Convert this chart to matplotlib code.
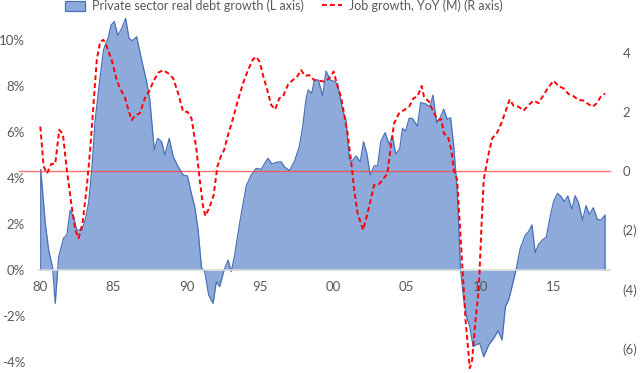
#!/usr/bin/env python3
"""
Private sector real debt growth (area, left axis) vs job growth YoY (dashed, right axis).
"""
import numpy as np
import matplotlib
matplotlib.use("Agg")
import matplotlib.pyplot as plt
from matplotlib.ticker import FuncFormatter

plt.rcParams["font.family"] = ["Lato", "DejaVu Sans"]

# --- data ---------------------------------------------------------------------------------------
DEBT_YEARS = [
    1980.05, 1980.36, 1980.59, 1980.86, 1981.04, 1981.27, 1981.61, 1981.83, 1982.06, 1982.29,
    1982.51, 1982.85, 1983.08, 1983.31, 1983.53, 1983.76, 1984.10, 1984.33, 1984.67, 1984.84,
    1985.07, 1985.30, 1985.57, 1985.84, 1986.07, 1986.30, 1986.59, 1986.93, 1987.27, 1987.49,
    1987.61, 1987.79, 1988.02, 1988.29, 1988.51, 1988.81, 1989.08, 1989.42, 1989.76, 1990.05,
    1990.33, 1990.55, 1990.78, 1991.01, 1991.23, 1991.50, 1991.80, 1992.02, 1992.25, 1992.55,
    1992.82, 1993.04, 1993.27, 1993.61, 1994.06, 1994.40, 1994.74, 1995.08, 1995.54, 1995.81,
    1996.10, 1996.44, 1996.66, 1997.00, 1997.34, 1997.68, 1997.91, 1998.14, 1998.29, 1998.53,
    1998.70, 1998.97, 1999.27, 1999.50, 1999.79, 2000.11, 2000.29, 2000.63, 2000.86, 2001.08,
    2001.24, 2001.54, 2001.83, 2002.06, 2002.28, 2002.51, 2002.78, 2003.01, 2003.23, 2003.53,
    2003.80, 2004.03, 2004.25, 2004.52, 2004.71, 2004.93, 2005.16, 2005.39, 2005.73, 2005.95,
    2006.29, 2006.58, 2006.79, 2007.04, 2007.26, 2007.53, 2007.76, 2007.99, 2008.21, 2008.44,
    2008.67, 2008.89, 2009.08, 2009.30, 2009.53, 2009.69, 2009.98, 2010.25, 2010.59, 2010.93,
    2011.23, 2011.50, 2011.73, 2011.95, 2012.18, 2012.45, 2012.74, 2013.08, 2013.31, 2013.54,
    2013.76, 2013.99, 2014.29, 2014.51, 2014.78, 2015.01, 2015.28, 2015.53, 2015.75, 2015.98,
    2016.26, 2016.48, 2016.71, 2016.98, 2017.23, 2017.45, 2017.72, 2018.00, 2018.25, 2018.52,
]
DEBT_GROWTH = [
    4.38, 2.04, 0.87, 0.10, -1.45, 0.57, 1.39, 1.52, 2.60, 2.32,
    1.74, 1.74, 2.17, 2.90, 4.35, 6.52, 8.40, 9.57, 10.14, 10.65,
    10.80, 10.20, 10.50, 10.94, 10.07, 9.97, 10.14, 9.13, 8.19, 7.39,
    6.52, 5.22, 5.72, 5.58, 5.00, 5.72, 4.93, 4.49, 4.13, 4.09,
    3.30, 2.75, 1.74, 0.10, -0.07, -1.09, -1.45, -0.51, -0.72, 0.00,
    0.43, -0.07, 0.65, 2.03, 3.66, 4.13, 4.42, 4.38, 4.86, 4.61,
    4.68, 4.71, 4.49, 4.32, 4.71, 5.36, 6.23, 7.46, 7.83, 7.68,
    8.26, 8.26, 7.57, 8.65, 8.26, 8.19, 8.08, 6.96, 6.52, 4.86,
    4.71, 4.96, 4.71, 5.58, 5.07, 4.13, 4.53, 4.53, 5.58, 5.97,
    5.45, 5.84, 5.04, 5.26, 6.16, 6.04, 6.59, 6.59, 6.26, 7.28,
    7.22, 7.10, 7.60, 6.40, 6.59, 6.99, 6.55, 6.62, 5.36, 3.48,
    0.00, -1.30, -2.03, -2.46, -3.33, -3.26, -3.19, -3.77, -3.26, -2.97,
    -2.64, -3.04, -1.59, -1.30, -0.72, 0.00, 0.94, 1.52, 1.67, 1.96,
    0.75, 1.12, 1.33, 1.42, 2.32, 2.97, 3.33, 3.19, 2.97, 3.22,
    2.64, 3.23, 2.93, 2.17, 2.80, 2.42, 2.71, 2.20, 2.17, 2.39,
]

JOB_YEARS = [
    1980.02, 1980.25, 1980.48, 1980.77, 1981.04, 1981.31, 1981.56, 1981.83, 1982.13, 1982.40,
    1982.63, 1982.90, 1983.19, 1983.42, 1983.65, 1983.87, 1984.10, 1984.33, 1984.55, 1984.89,
    1985.23, 1985.46, 1985.79, 1986.03, 1986.25, 1986.52, 1986.81, 1987.15, 1987.49, 1987.72,
    1988.06, 1988.40, 1988.74, 1989.08, 1989.42, 1989.76, 1990.05, 1990.33, 1990.67, 1990.89,
    1991.12, 1991.28, 1991.57, 1991.84, 1992.09, 1992.32, 1992.55, 1992.82, 1993.16, 1993.50,
    1993.84, 1994.18, 1994.52, 1994.74, 1994.97, 1995.20, 1995.49, 1995.76, 1996.03, 1996.32,
    1996.56, 1996.90, 1997.23, 1997.53, 1997.80, 1998.07, 1998.36, 1998.70, 1999.04, 1999.38,
    1999.72, 2000.02, 2000.29, 2000.52, 2000.74, 2000.97, 2001.20, 2001.42, 2001.65, 2002.03,
    2002.33, 2002.78, 2003.12, 2003.35, 2003.69, 2003.91, 2004.14, 2004.48, 2004.82, 2005.16,
    2005.46, 2005.73, 2006.02, 2006.18, 2006.52, 2006.86, 2007.13, 2007.36, 2007.53, 2007.81,
    2008.04, 2008.21, 2008.44, 2008.78, 2009.01, 2009.30, 2009.46, 2009.69, 2009.91, 2010.14,
    2010.25, 2010.37, 2010.59, 2010.82, 2011.16, 2011.45, 2011.73, 2012.02, 2012.29, 2012.63,
    2012.97, 2013.31, 2013.65, 2013.99, 2014.33, 2014.67, 2015.01, 2015.35, 2015.69, 2016.03,
    2016.37, 2016.71, 2017.04, 2017.38, 2017.68, 2017.95, 2018.23, 2018.52,
]
JOB_GROWTH = [
    1.50, 0.15, -0.08, 0.24, 0.24, 1.39, 1.25, 0.03, -1.09, -1.99,
    -2.27, -1.77, -0.53, 0.71, 2.29, 3.75, 4.37, 4.43, 4.20, 3.75,
    3.07, 2.79, 2.49, 2.06, 1.72, 1.89, 1.95, 2.46, 2.74, 3.02,
    3.32, 3.41, 3.30, 3.13, 2.62, 2.00, 2.00, 1.78, 0.71, -0.30,
    -1.21, -1.52, -1.21, -0.81, 0.15, 0.48, 0.71, 1.22, 1.78, 2.40,
    2.96, 3.41, 3.77, 3.86, 3.69, 3.24, 2.74, 2.23, 2.08, 2.46,
    2.51, 2.91, 3.07, 3.19, 3.41, 3.21, 3.24, 3.07, 3.05, 3.02,
    3.13, 3.36, 2.85, 2.51, 1.89, 1.27, 0.37, -0.64, -1.43, -1.99,
    -1.43, -0.47, -0.44, -0.30, -0.08, 0.82, 1.61, 1.95, 2.06, 2.17,
    2.46, 2.51, 2.87, 2.51, 2.34, 1.95, 1.72, 1.75, 1.27, 1.16,
    0.71, 0.03, -0.30, -3.10, -5.03, -6.66, -6.39, -5.03, -4.02, -1.40,
    -0.30, 0.03, 0.60, 1.10, 1.29, 1.61, 2.00, 2.42, 2.20, 2.17,
    2.04, 2.23, 2.38, 2.29, 2.57, 2.83, 3.05, 2.87, 2.79, 2.60,
    2.53, 2.40, 2.38, 2.26, 2.17, 2.29, 2.51, 2.62,
]

LEFT_TICKS = [-4, -2, 0, 2, 4, 6, 8, 10]
RIGHT_TICKS = [-6, -4, -2, 0, 2, 4]
X_TICKS = [1980, 1985, 1990, 1995, 2000, 2005, 2010, 2015]

DEBT_LABEL = "Private sector real debt growth (L axis)"
JOB_LABEL = "Job growth, YoY (M) (R axis)"

# --- style --------------------------------------------------------------------------------------
FILL = "#8eaadb"
EDGE = "#4a70b8"
TEXT = "#595959"
DASH = (0, (2.5, 1.6))


def pct(v, _):
    return f"{v:.0f}%"


def paren(v, _):
    return f"({abs(v):.0f})" if v < 0 else f"{v:.0f}"


def main():
    fig = plt.figure(figsize=(6.4, 3.73), dpi=100)
    ax = fig.add_axes([39 / 640, 1 - 372 / 373, (610 - 39) / 640, 357 / 373])
    ax2 = ax.twinx()

    years = np.array(DEBT_YEARS)
    debt = np.array(DEBT_GROWTH)
    ax.fill_between(years, debt, 0, color=FILL, linewidth=0, zorder=1)
    ax.plot(np.r_[years[0], years, years[-1]], np.r_[0, debt, 0],
            color=EDGE, linewidth=0.9, zorder=1.2)
    ax.set_axisbelow(False)   # keep tick labels (e.g. "10") above the area

    ax.set_xlim(1980 - 1 / 14.72, 1980 + (610 - 38) / 14.72)
    ax.set_ylim((270 - 372) / 23, (270 - 15) / 23)
    ax.set_yticks(LEFT_TICKS)
    ax.yaxis.set_major_formatter(FuncFormatter(pct))
    ax.set_xticks(X_TICKS)
    ax.set_xticklabels([f"{y % 100:02d}" for y in X_TICKS])

    for s in ("top", "left", "right"):
        ax.spines[s].set_visible(False)
    ax.spines["bottom"].set_position(("data", 0))
    ax.spines["bottom"].set_color("#d9d9d9")
    ax.spines["bottom"].set_linewidth(1.2)
    ax.spines["bottom"].set_zorder(4)
    ax.tick_params(axis="both", length=0, labelsize=9.5, labelcolor=TEXT)
    ax.tick_params(axis="x", pad=8)
    ax.tick_params(axis="y", pad=10)

    # job growth on the right axis
    ax2.plot(JOB_YEARS, JOB_GROWTH, color="#ff0000", linewidth=1.4,
             linestyle=DASH, zorder=5, label=JOB_LABEL)
    ax2.axhline(0, xmin=-20 / 571, xmax=1, color="#ff4040", alpha=0.75,
                linewidth=1.0, clip_on=False, zorder=4)
    ax2.set_ylim((171 - 372) / 29.6, (171 - 15) / 29.6)
    ax2.set_yticks(RIGHT_TICKS)
    ax2.yaxis.set_major_formatter(FuncFormatter(paren))
    for s in ax2.spines.values():
        s.set_visible(False)
    ax2.tick_params(axis="y", length=0, labelsize=9.5, labelcolor=TEXT, pad=9)
    ax.set_zorder(1)
    ax2.set_zorder(2)
    ax2.patch.set_visible(False)

    # legend across the top, starting just right of the "10%" label column
    handles = [
        plt.Rectangle((0, 0), 1, 1, facecolor=FILL, edgecolor=EDGE, linewidth=0.9),
        plt.Line2D([0], [0], color="#ff0000", linewidth=1.4, linestyle=DASH),
    ]
    fig.legend(handles, [DEBT_LABEL, JOB_LABEL], loc="center left",
               bbox_to_anchor=(65 / 640, 1 - 6 / 373), ncol=2, frameon=False,
               fontsize=9, labelcolor=TEXT, handlelength=1.6, handleheight=0.95,
               columnspacing=1.4, handletextpad=0.6, borderpad=0, borderaxespad=0)

    fig.savefig("out.png", dpi=100, facecolor="white")
    plt.close(fig)


if __name__ == "__main__":
    main()
